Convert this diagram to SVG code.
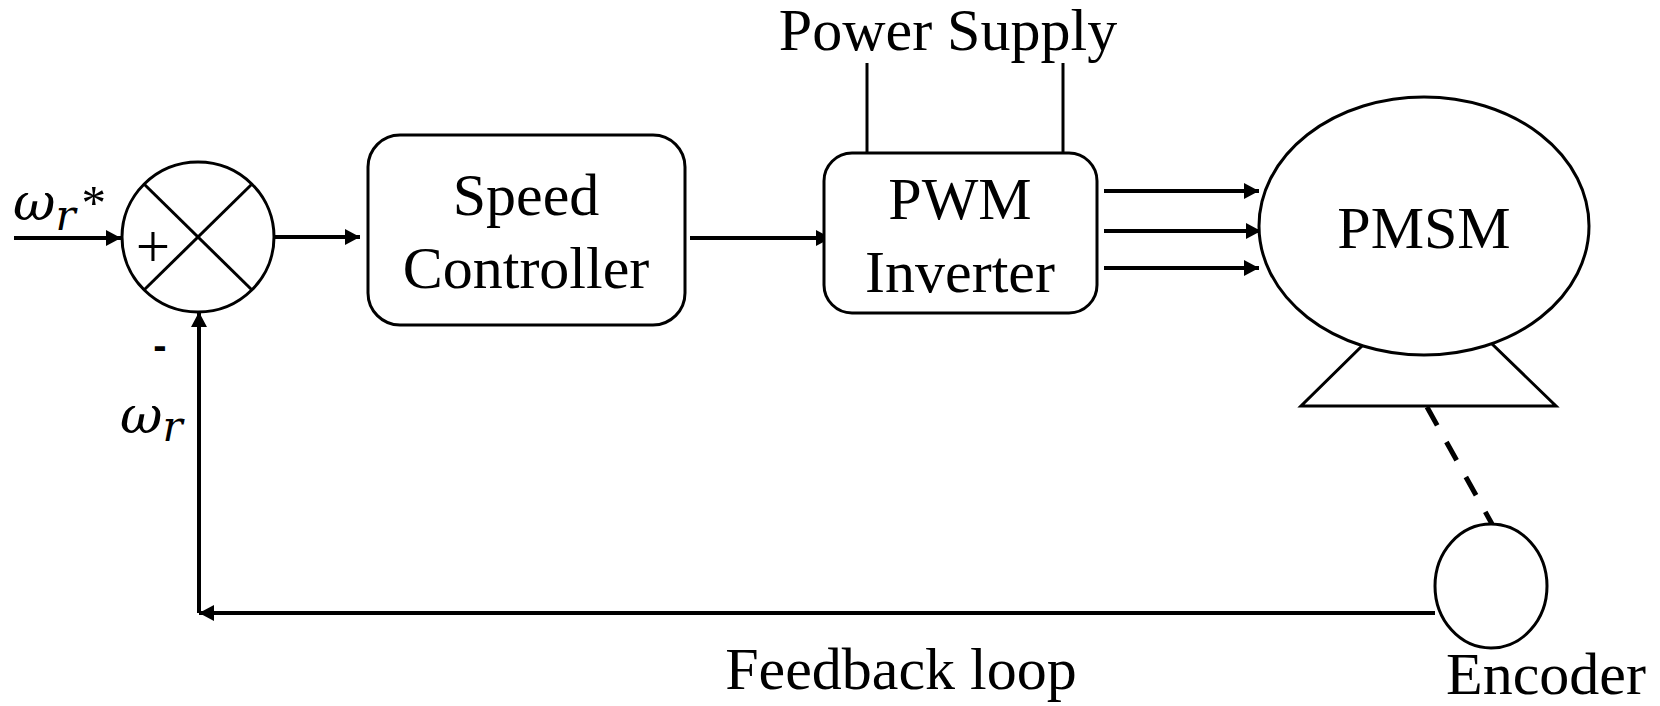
<svg xmlns="http://www.w3.org/2000/svg" width="1660" height="706" viewBox="0 0 1660 706">
<style>
.shape{fill:#fff;stroke:#000;stroke-width:3}
.line{fill:none;stroke:#000;stroke-width:4}
.thin{fill:none;stroke:#000;stroke-width:3}
.lbl{font-family:"Liberation Serif","Times New Roman",serif;font-size:60px;fill:#000;text-anchor:middle}
.math{font-family:"DejaVu Serif",serif;font-style:italic;fill:#000;font-size:52px}
.sub{font-size:42px}
.star{font-family:"Liberation Serif",serif;font-style:normal;font-size:49px}
</style>
<defs>
<marker id="ah" markerUnits="userSpaceOnUse" markerWidth="16" markerHeight="16" refX="15" refY="8" orient="auto">
<path d="M0,0 L15,8 L0,16 z" fill="#000"/>
</marker>
</defs>
<rect width="1660" height="706" fill="#fff"/>

<g id="connectors">
<line class="line" x1="14" y1="238" x2="121" y2="238" marker-end="url(#ah)"/>
<line class="line" x1="275" y1="237" x2="360" y2="237" marker-end="url(#ah)"/>
<line class="line" x1="690" y1="238" x2="831" y2="238" marker-end="url(#ah)"/>
<line class="line" x1="1104" y1="191" x2="1259" y2="191" marker-end="url(#ah)"/>
<line class="line" x1="1104" y1="231" x2="1261" y2="231" marker-end="url(#ah)"/>
<line class="line" x1="1104" y1="268" x2="1259" y2="268" marker-end="url(#ah)"/>
<line class="thin" x1="867" y1="63" x2="867" y2="155"/>
<line class="thin" x1="1063" y1="63" x2="1063" y2="155"/>
<line class="line" x1="1435" y1="613" x2="199" y2="613" marker-end="url(#ah)"/>
<line class="line" x1="199" y1="613" x2="199" y2="312" marker-end="url(#ah)"/>
<line x1="1427" y1="407" x2="1492" y2="524" stroke="#000" stroke-width="5" stroke-dasharray="21 19"/>
</g>

<g id="sum">
<ellipse class="shape" cx="198" cy="237" rx="76" ry="75"/>
<line class="thin" x1="144" y1="184" x2="252" y2="290"/>
<line class="thin" x1="252" y1="184" x2="144" y2="290"/>
<text x="153" y="267" font-family="Liberation Serif,serif" font-size="61" text-anchor="middle">+</text>
<text x="160" y="359" font-family="Liberation Sans,Arial,sans-serif" font-size="40" font-weight="bold" text-anchor="middle">-</text>
</g>

<g id="label-ref">
<text class="math" x="13" y="220">ω<tspan class="sub" dy="10">r</tspan><tspan class="star" dx="6" dy="-11">*</tspan></text>
</g>

<g id="label-fb">
<text class="math" x="120" y="433">ω<tspan class="sub" dy="8">r</tspan></text>
</g>

<g id="speed-controller">
<rect class="shape" x="368" y="135" width="317" height="190" rx="32" ry="32"/>
<text class="lbl" x="526" y="215">Speed</text>
<text class="lbl" x="526" y="288">Controller</text>
</g>

<g id="pwm-inverter">
<rect class="shape" x="824" y="153" width="273" height="160" rx="28" ry="28"/>
<text class="lbl" x="960" y="219">PWM</text>
<text class="lbl" x="960" y="292">Inverter</text>
</g>

<g id="power-supply">
<text class="lbl" x="948" y="50" font-size="58">Power Supply</text>
</g>

<g id="pmsm">
<polygon class="shape" points="1363,345 1491,343 1556,406 1301,406"/>
<ellipse class="shape" cx="1424" cy="226" rx="165" ry="129"/>
<text class="lbl" x="1424" y="248">PMSM</text>
</g>

<g id="encoder">
<ellipse class="shape" cx="1491" cy="586" rx="56" ry="62"/>
<text class="lbl" x="1546" y="694">Encoder</text>
</g>

<g id="feedback-label">
<text class="lbl" x="901" y="689">Feedback loop</text>
</g>
</svg>
